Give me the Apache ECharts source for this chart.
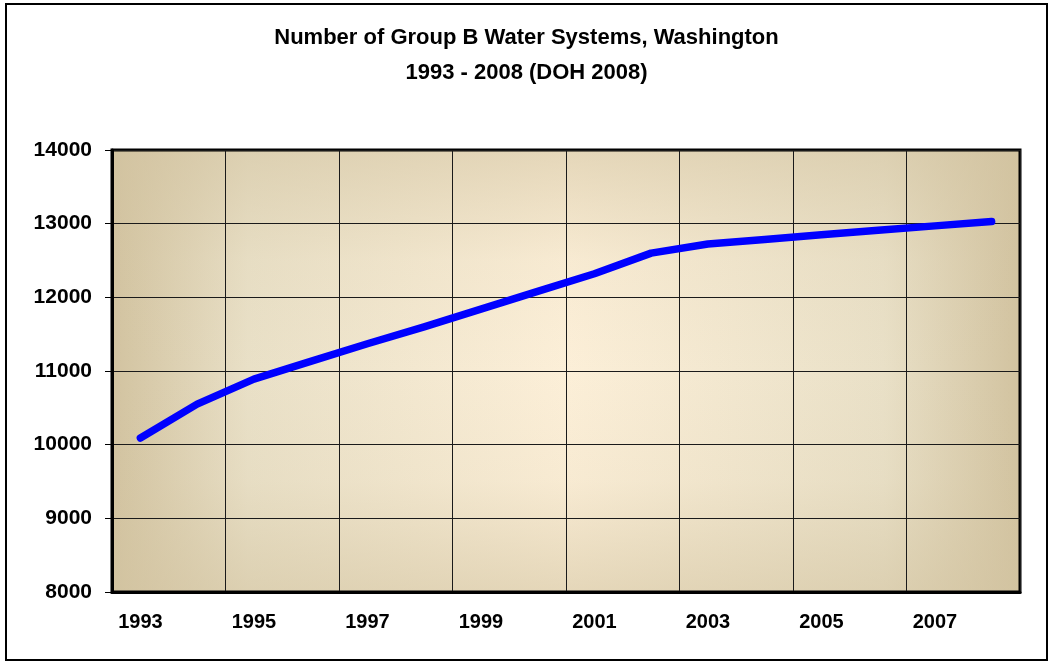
<!DOCTYPE html>
<html>
<head>
<meta charset="utf-8">
<script src="https://cdn.jsdelivr.net/npm/echarts@6/dist/echarts.min.js"></script>
<style>
  html, body { margin: 0; padding: 0; background: #fff; }
  #main { width: 1053px; height: 665px; }
</style>
</head>
<body>
<div id="main"></div>
<script>
// 年份与系统数量
var years = ['1993', '1994', '1995', '1996', '1997', '1998', '1999', '2000',
             '2001', '2002', '2003', '2004', '2005', '2006', '2007', '2008'];
var systems = [10090, 10550, 10890, 11130, 11370, 11600, 11840, 12080,
               12320, 12600, 12725, 12785, 12850, 12910, 12970, 13030];
var yTicks = [8000, 9000, 10000, 11000, 12000, 13000, 14000];

var plot = { left: 112, top: 150, width: 908, height: 442 };
var tan = '#d2c3a0';

var myChart = echarts.init(document.getElementById('main'));

myChart.setOption({
    animation: false,
    title: {
        text: 'Number of Group B Water Systems, Washington\n1993 - 2008 (DOH 2008)',
        left: 'center',
        top: 15,
        textStyle: {
            fontFamily: 'Liberation Sans, Arial, sans-serif',
            fontWeight: 'bold',
            fontSize: 22,
            lineHeight: 35,
            color: '#000'
        }
    },
    graphic: [
        {
            type: 'rect',
            z: -10,
            shape: { x: 6, y: 4, width: 1041, height: 656 },
            style: { fill: '#fff', stroke: '#000', lineWidth: 2 }
        },
        {
            type: 'rect',
            z: -9,
            shape: { x: plot.left, y: plot.top, width: plot.width, height: plot.height },
            style: {
                fill: new echarts.graphic.LinearGradient(0, 0, 1, 0, [
                    { offset: 0, color: tan },
                    { offset: 0.15, color: '#e9e0c7' },
                    { offset: 0.5, color: '#fcefd8' },
                    { offset: 0.85, color: '#e9e0c7' },
                    { offset: 1, color: tan }
                ])
            }
        },
        {
            type: 'rect',
            z: -8,
            shape: { x: plot.left, y: plot.top, width: plot.width, height: plot.height },
            style: {
                fill: new echarts.graphic.LinearGradient(0, 0, 0, 1, [
                    { offset: 0, color: 'rgba(210,195,160,0.55)' },
                    { offset: 0.25, color: 'rgba(210,195,160,0.1)' },
                    { offset: 0.5, color: 'rgba(210,195,160,0)' },
                    { offset: 0.75, color: 'rgba(210,195,160,0.1)' },
                    { offset: 1, color: 'rgba(210,195,160,0.55)' }
                ])
            }
        }
    ],
    grid: {
        left: plot.left,
        top: plot.top,
        width: plot.width,
        height: plot.height,
        show: true,
        backgroundColor: 'transparent',
        borderColor: '#000',
        borderWidth: 3
    },
    xAxis: {
        type: 'category',
        data: years,
        boundaryGap: true,
        axisLine: { lineStyle: { color: '#000', width: 3 } },
        axisTick: { interval: 1, length: 7, lineStyle: { color: '#000' } },
        axisLabel: {
            interval: 1,
            margin: 20,
            color: '#000',
            fontFamily: 'Liberation Sans, Arial, sans-serif',
            fontWeight: 'bold',
            fontSize: 20
        },
        splitLine: { show: true, interval: 1, lineStyle: { color: '#1a1a1a', width: 1 } }
    },
    yAxis: {
        type: 'value',
        min: yTicks[0],
        max: yTicks[yTicks.length - 1],
        interval: 1000,
        axisLine: { show: true, lineStyle: { color: '#000', width: 3 } },
        axisTick: { show: true, length: 7, lineStyle: { color: '#000' } },
        axisLabel: {
            margin: 20,
            color: '#000',
            fontFamily: 'Liberation Sans, Arial, sans-serif',
            fontWeight: 'bold',
            fontSize: 21,
            formatter: function (v) { return String(v); }
        },
        splitLine: { show: true, lineStyle: { color: '#1a1a1a', width: 1 } }
    },
    series: [
        {
            name: 'Group B Water Systems',
            type: 'line',
            data: systems,
            showSymbol: false,
            symbol: 'none',
            lineStyle: { color: '#0000ff', width: 7.5, cap: 'round', join: 'round' }
        }
    ]
});
</script>
</body>
</html>
